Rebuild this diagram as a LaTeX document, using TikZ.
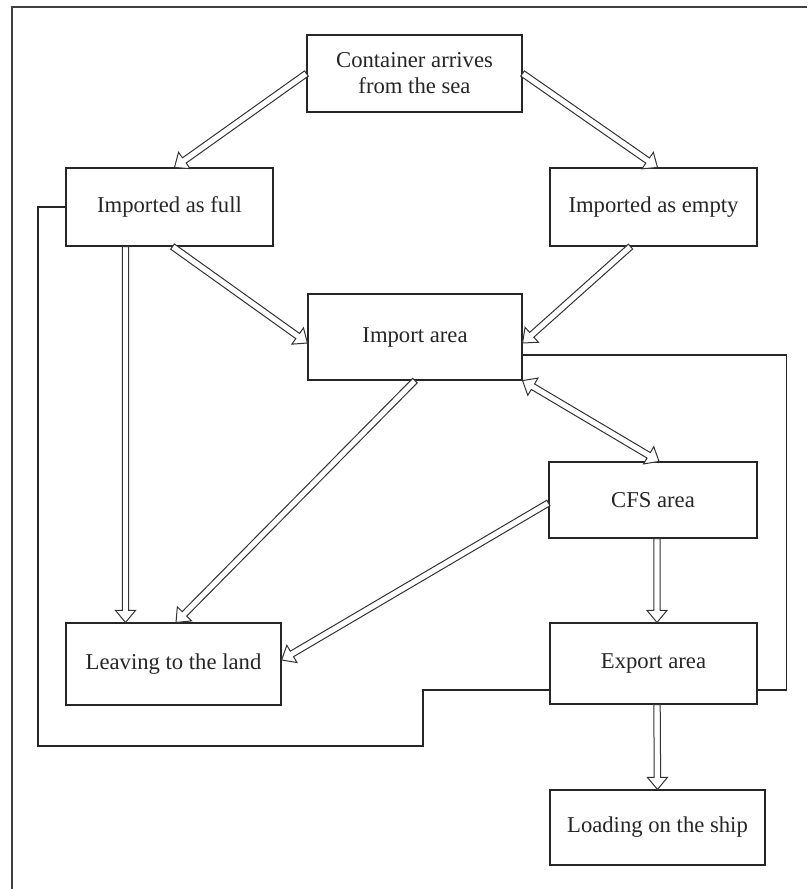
\documentclass[tikz,border=0pt]{standalone}
\usepackage{fontspec}
\setmainfont{Liberation Serif}
\usetikzlibrary{calc}

% hollow block arrow from #1 to #2 (tip at #2)
\newcommand\fatarrow[2]{%
  \draw[blockarrow] let \p1=(#1), \p2=(#2),
      \n1={atan2(\y2-\y1,\x2-\x1)}, \n2={veclen(\x2-\x1,\y2-\y1)}, \n3={\n2-9pt} in
    ($(\p1)+(\n1+90:2.4pt)$)
    -- ($(\p1)+(\n1:\n3)+(\n1+90:2.4pt)$)
    -- ($(\p1)+(\n1:\n3)+(\n1+90:7.5pt)$)
    -- (\p2)
    -- ($(\p1)+(\n1:\n3)+(\n1-90:7.5pt)$)
    -- ($(\p1)+(\n1:\n3)+(\n1-90:2.4pt)$)
    -- ($(\p1)+(\n1-90:2.4pt)$) -- cycle;}

% hollow block arrow with a head at both ends
\newcommand\fatarrowboth[2]{%
  \draw[blockarrow] let \p1=(#1), \p2=(#2),
      \n1={atan2(\y2-\y1,\x2-\x1)}, \n2={veclen(\x2-\x1,\y2-\y1)}, \n3={\n2-9pt} in
    (\p1)
    -- ($(\p1)+(\n1:9pt)+(\n1+90:7.5pt)$)
    -- ($(\p1)+(\n1:9pt)+(\n1+90:2.4pt)$)
    -- ($(\p1)+(\n1:\n3)+(\n1+90:2.4pt)$)
    -- ($(\p1)+(\n1:\n3)+(\n1+90:7.5pt)$)
    -- (\p2)
    -- ($(\p1)+(\n1:\n3)+(\n1-90:7.5pt)$)
    -- ($(\p1)+(\n1:\n3)+(\n1-90:2.4pt)$)
    -- ($(\p1)+(\n1:9pt)+(\n1-90:2.4pt)$)
    -- ($(\p1)+(\n1:9pt)+(\n1-90:7.5pt)$) -- cycle;}

\tikzset{
  box/.style={draw=black!85, line width=0.85pt, fill=white, align=center,
    inner sep=0pt, font=\fontsize{17pt}{19.5pt}\selectfont, text=black!85},
  blockarrow/.style={draw=black!80, line width=0.75pt, fill=white, line join=miter},
  link/.style={draw=black!85, line width=0.85pt},
  frame/.style={draw=black!75, line width=1.2pt}
}

\begin{document}
\begin{tikzpicture}[x=0.75pt,y=-0.75pt]
  \useasboundingbox (0,0) rectangle (807,889);
  \draw[frame] (12,889) -- (12,7) -- (807,7);

  \node[box, minimum width=161.25pt, minimum height=57.75pt] (cont) at (414.5,73.5) {Container arrives\\from the sea};
  \node[box, minimum width=155.25pt, minimum height=58.5pt] (full) at (169.5,207) {Imported as full};
  \node[box, minimum width=155.25pt, minimum height=58.5pt] (empty) at (653.5,207) {Imported as empty};
  \node[box, minimum width=160.5pt, minimum height=64.5pt] (imp) at (415,337) {Import area};
  \node[box, minimum width=156pt, minimum height=57pt] (cfs) at (653,500) {CFS area};
  \node[box, minimum width=161.25pt, minimum height=61.5pt] (leave) at (173.5,664) {Leaving to the land};
  \node[box, minimum width=155.25pt, minimum height=60.75pt] (exp) at (653.5,663.5) {Export area};
  \node[box, minimum width=161.25pt, minimum height=56.25pt] (load) at (657.5,827.5) {Loading on the ship};

  % plain connecting lines
  \coordinate (lc) at (423,746);
  \draw[link] (full.west) -| (38,746) -- (lc) |- ($(exp.west)+(0,26.5)$);
  \draw[link] ($(imp.east)+(0,18)$) -- ++(264,0) |- ($(exp.east)+(0,26.5)$);

  % block arrows
  \fatarrow{cont.west}{$(full.north)+(5,0)$}
  \fatarrow{cont.east}{$(empty.north)+(4,0)$}
  \fatarrow{$(full.south)+(3,0)$}{$(imp.west)+(0,6)$}
  \fatarrow{$(empty.south)+(-23,0)$}{$(imp.east)+(0,6)$}
  \fatarrow{$(full.south)+(-44,0)$}{$(leave.north)+(-48,0)$}
  \fatarrow{imp.south}{$(leave.north)+(2.5,0)$}
  \fatarrow{$(cfs.west)+(0,3)$}{$(leave.east)+(0,-4)$}
  \fatarrowboth{imp.south east}{$(cfs.north)+(6,0)$}
  \fatarrow{$(cfs.south)+(4,0)$}{$(exp.north)+(3.5,0)$}
  \fatarrow{$(exp.south)+(3.5,0)$}{load.north}
\end{tikzpicture}
\end{document}
